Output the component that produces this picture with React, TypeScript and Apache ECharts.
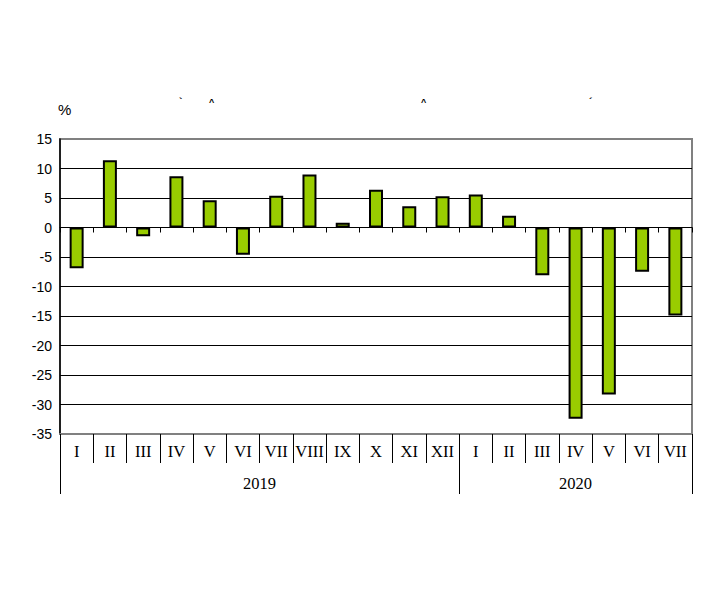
import React, { useEffect, useRef } from "react";
import * as echarts from "echarts";

const months = ["I", "II", "III", "IV", "V", "VI", "VII", "VIII", "IX", "X", "XI", "XII", "I", "II", "III", "IV", "V", "VI", "VII"];
const values = [-6.9, 11.4, -1.5, 8.7, 4.6, -4.6, 5.4, 9.0, 0.8, 6.4, 3.6, 5.3, 5.6, 2.0, -8.1, -32.4, -28.3, -7.5, -14.9];
const years = ["2019", "2020"];
const yearBounds = [0, 12, 19];
const yearCenters = [6, 15.5];
const unitLabel = "%";

export default function App() {
  const ref = useRef<HTMLDivElement>(null);
  useEffect(() => {
    document.body.style.margin = "0";
    const chart = echarts.init(ref.current!, null, { renderer: "svg" });
    const splitColors = ["#808080", "#000", "#000", "#000", "#000", "#000", "#000", "#000", "#000", "#000", "#808080"];
    chart.setOption({
      animation: false,
      grid: { left: 60, right: 18, top: 139, bottom: 165, show: true, borderColor: "#808080", borderWidth: 2, backgroundColor: "transparent" },
      graphic: [
        { type: "text", left: 58, top: 102, style: { text: unitLabel, font: "15px 'Liberation Sans'", fill: "#000" } },
        { type: "text", left: 179, top: 96, style: { text: "`", font: "bold 10px 'Liberation Sans'", fill: "#000" } },
        { type: "text", left: 209, top: 97, style: { text: "^", font: "bold 9px 'Liberation Sans'", fill: "#000" } },
        { type: "text", left: 421, top: 97, style: { text: "^", font: "bold 9px 'Liberation Sans'", fill: "#000" } },
        { type: "text", left: 589, top: 96, style: { text: "´", font: "bold 10px 'Liberation Sans'", fill: "#000" } },
      ],
      xAxis: [
        {
          type: "category",
          data: months.map((m, i) => m + "_" + i),
          position: "bottom",
          axisLine: { onZero: true, lineStyle: { color: "#000", width: 1 } },
          axisTick: { show: true, length: 5, interval: 0, lineStyle: { color: "#000" } },
          axisLabel: { show: false },
          splitLine: { show: false },
        },
        {
          type: "category",
          data: months,
          position: "bottom",
          axisLine: { onZero: false, lineStyle: { color: "#808080", width: 2 } },
          axisTick: { show: true, length: 29, interval: 0, lineStyle: { color: "#000" } },
          axisLabel: { interval: 0, margin: 9, color: "#000", fontFamily: "'Liberation Serif'", fontSize: 16.5 },
          splitLine: { show: false },
        },
        {
          type: "value",
          min: 0,
          max: 19,
          position: "bottom",
          offset: 29,
          axisLine: { show: false, onZero: false },
          axisTick: { show: true, length: 31, customValues: yearBounds, lineStyle: { color: "#000" } },
          axisLabel: {
            show: true,
            customValues: yearCenters,
            margin: 12,
            color: "#000",
            fontFamily: "'Liberation Serif'",
            fontSize: 16.5,
            formatter: (v: number) => (v < 12 ? years[0] : years[1]),
          },
          splitLine: { show: false },
        },
      ],
      yAxis: {
        type: "value",
        min: -35,
        max: 15,
        interval: 5,
        axisLine: { show: true, lineStyle: { color: "#000", width: 1.5 } },
        axisTick: { show: false },
        axisLabel: { color: "#000", fontFamily: "'Liberation Sans'", fontSize: 14, margin: 8 },
        splitLine: { show: true, lineStyle: { color: splitColors, width: 1 } },
      },
      series: [
        {
          type: "bar",
          xAxisIndex: 0,
          data: values,
          barWidth: 14,
          itemStyle: { color: "#99cc00", borderColor: "#000", borderWidth: 2 },
          z: 3,
        },
      ],
    });
    return () => chart.dispose();
  }, []);
  return <div ref={ref} style={{ width: 710, height: 599 }} />;
}
